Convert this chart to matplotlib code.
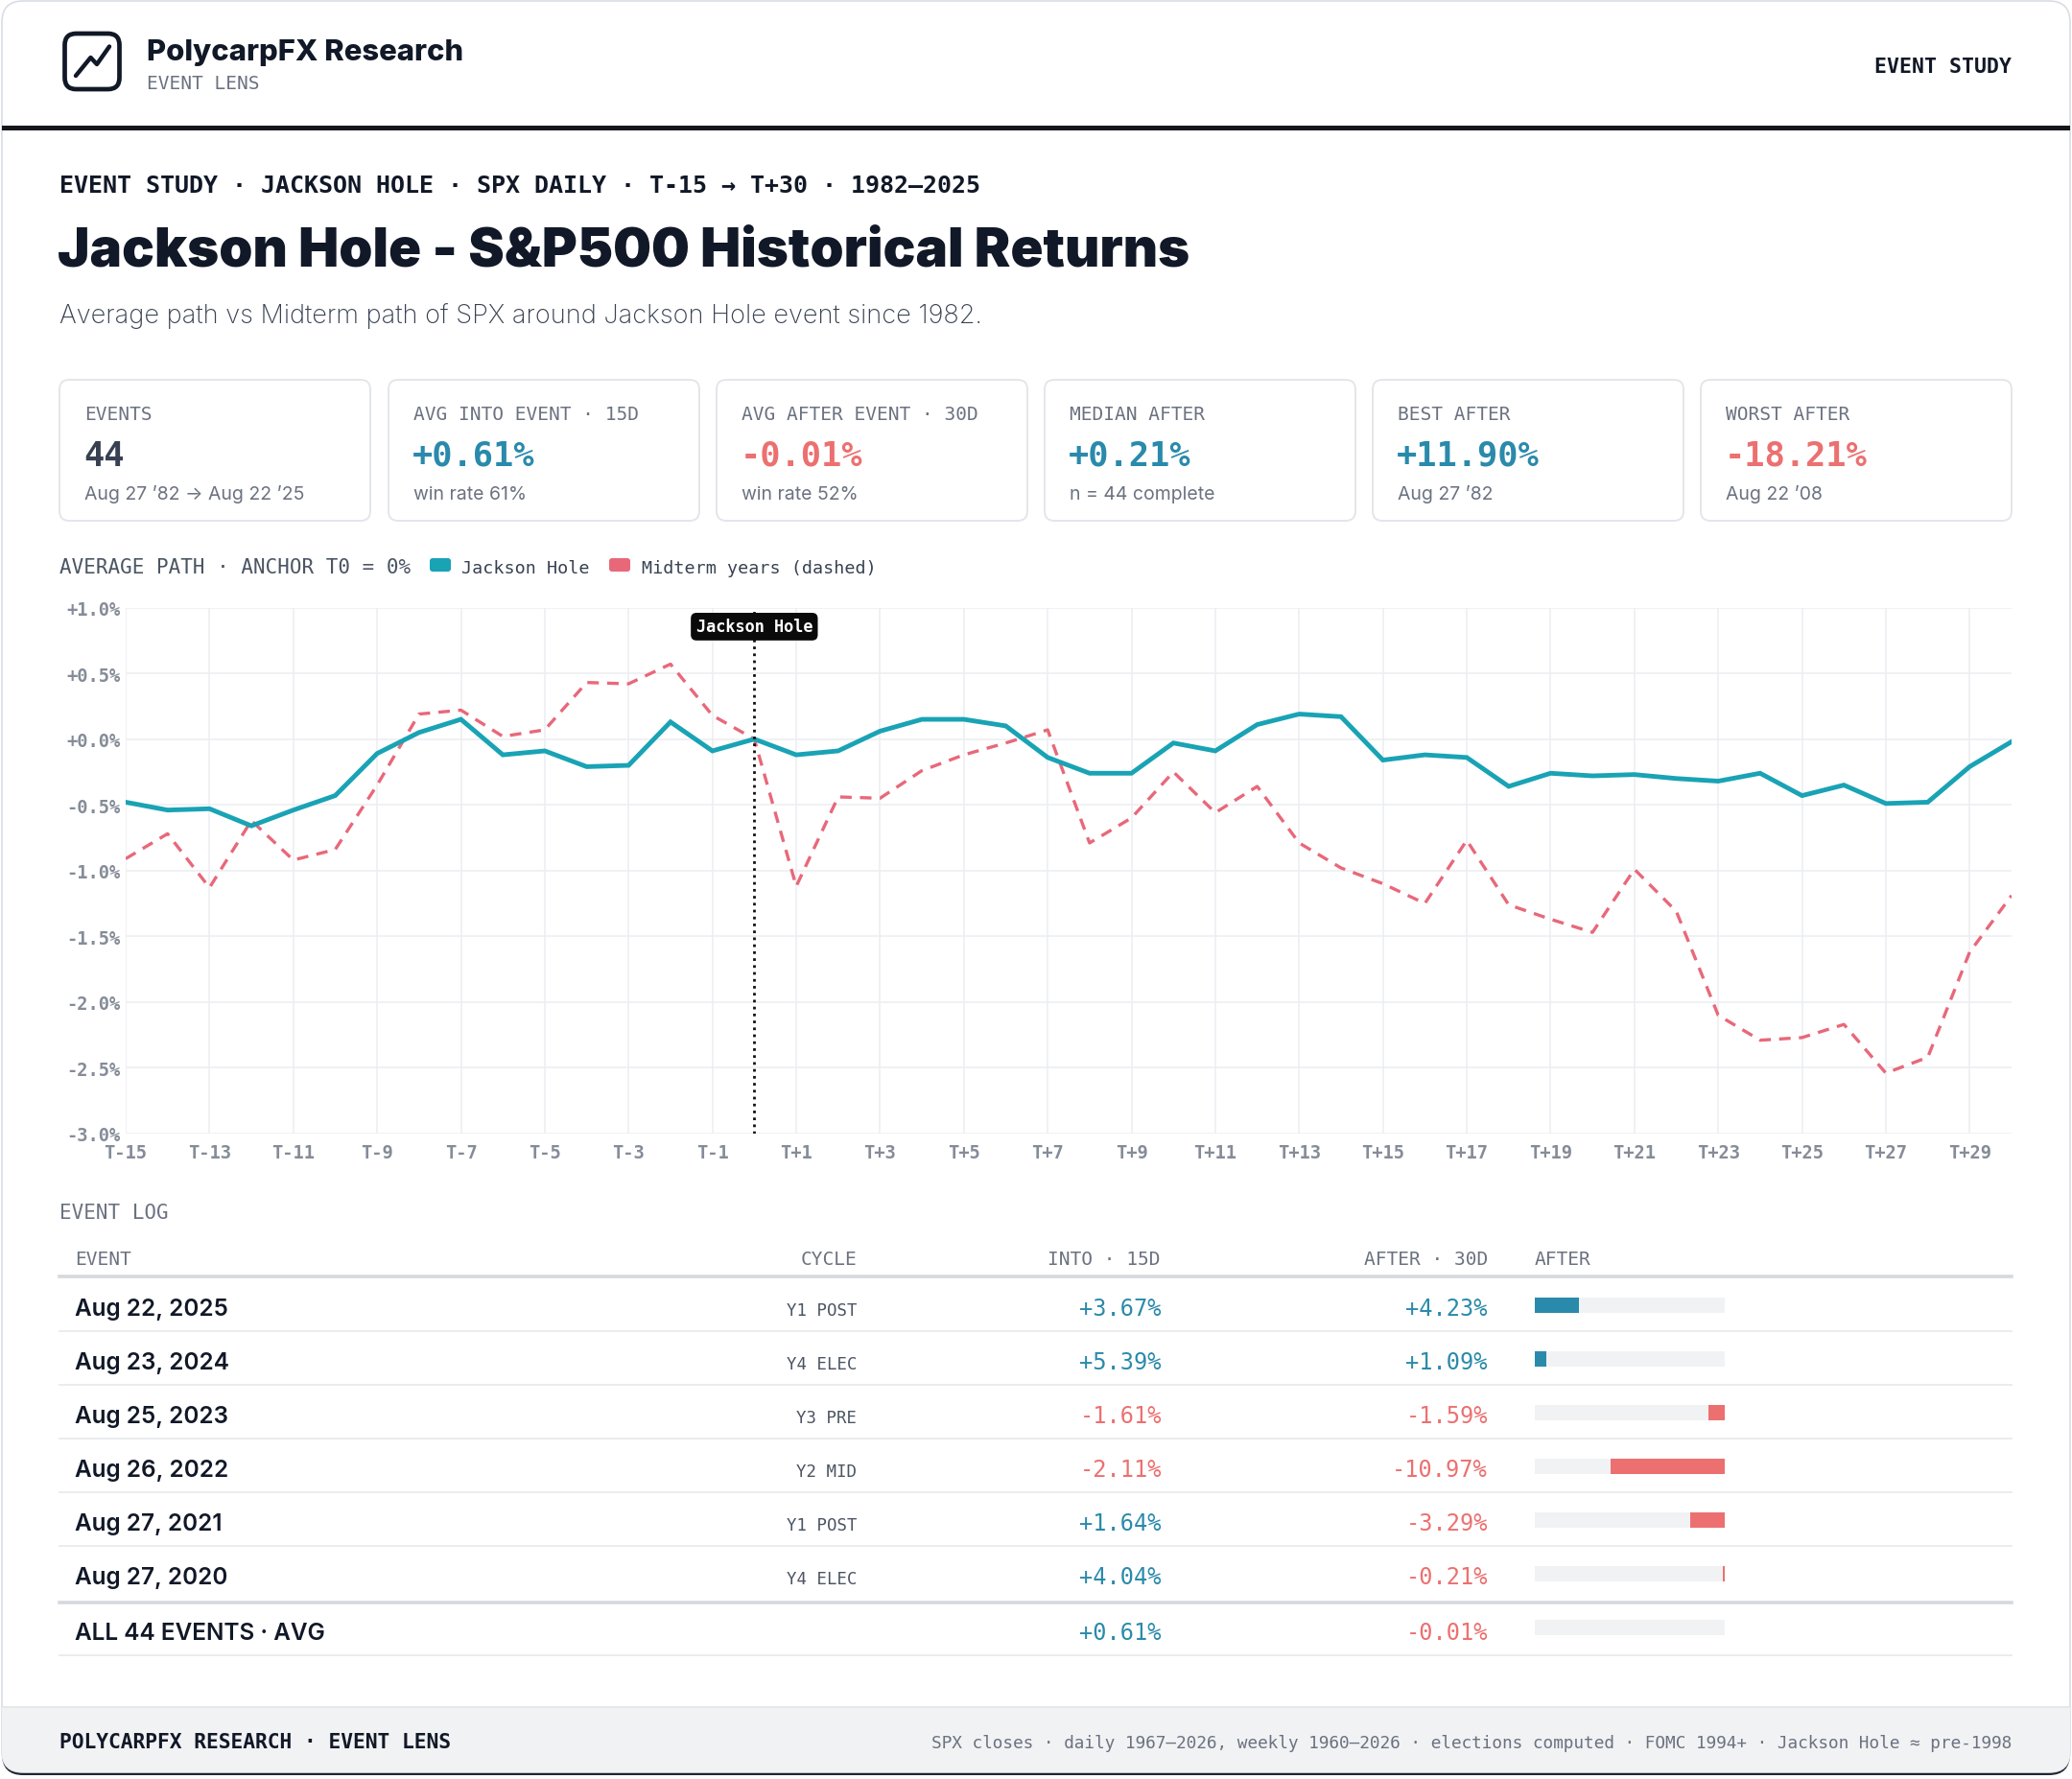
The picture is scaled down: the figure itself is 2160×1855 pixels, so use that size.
import matplotlib
matplotlib.use("Agg")
import matplotlib.pyplot as plt
from matplotlib.patches import FancyBboxPatch, Rectangle
import matplotlib.transforms as mtransforms

# ---------------- data ----------------
days = list(range(-15, 31))
jackson_hole = [-0.48, -0.54, -0.53, -0.66, -0.54, -0.43, -0.11, 0.05, 0.15, -0.12,
                -0.09, -0.21, -0.20, 0.13, -0.09, 0.00, -0.12, -0.09, 0.06, 0.15,
                0.15, 0.10, -0.14, -0.26, -0.26, -0.03, -0.09, 0.11, 0.19, 0.17,
                -0.16, -0.12, -0.14, -0.36, -0.26, -0.28, -0.27, -0.30, -0.32, -0.26,
                -0.43, -0.35, -0.49, -0.48, -0.21, -0.02]
midterm = [-0.91, -0.72, -1.13, -0.62, -0.92, -0.84, -0.35, 0.19, 0.22, 0.02,
           0.07, 0.43, 0.42, 0.57, 0.18, 0.00, -1.12, -0.44, -0.45, -0.24,
           -0.12, -0.03, 0.07, -0.79, -0.60, -0.25, -0.56, -0.36, -0.79, -0.98,
           -1.10, -1.25, -0.77, -1.26, -1.37, -1.47, -0.99, -1.31, -2.10, -2.29,
           -2.27, -2.17, -2.54, -2.42, -1.62, -1.19]
x_tick_days = list(range(-15, 30, 2))
y_ticks = [1.0, 0.5, 0.0, -0.5, -1.0, -1.5, -2.0, -2.5, -3.0]

kpi_labels = ["EVENTS", "AVG INTO EVENT · 15D", "AVG AFTER EVENT · 30D",
              "MEDIAN AFTER", "BEST AFTER", "WORST AFTER"]
kpi_values = ["44", "+0.61%", "-0.01%", "+0.21%", "+11.90%", "-18.21%"]
kpi_subs = ["Aug 27 ’82 → Aug 22 ’25", "win rate 61%", "win rate 52%",
            "n = 44 complete", "Aug 27 ’82", "Aug 22 ’08"]
kpi_tone = ["neutral", "pos", "neg", "pos", "pos", "neg"]

event_dates = ["Aug 22, 2025", "Aug 23, 2024", "Aug 25, 2023",
               "Aug 26, 2022", "Aug 27, 2021", "Aug 27, 2020"]
event_cycles = ["Y1 POST", "Y4 ELEC", "Y3 PRE", "Y2 MID", "Y1 POST", "Y4 ELEC"]
into_15d = [3.67, 5.39, -1.61, -2.11, 1.64, 4.04]
after_30d = [4.23, 1.09, -1.59, -10.97, -3.29, -0.21]
avg_into = 0.61
avg_after = -0.01
worst_after = -18.21

# ---------------- style ----------------
W, H = 2160, 1856
SANS = "Inter"
MONO = "DejaVu Sans Mono"
DARK = "#111827"
GREY = "#6b7280"
TICK = "#858c98"
POS = "#2a8aab"
NEG = "#ec7070"
TEAL = "#19a3b5"
PINK = "#e8687a"

fig = plt.figure(figsize=(W / 100, H / 100), dpi=100)
fig.patch.set_facecolor("white")
bg = fig.add_axes([0, 0, 1, 1])
bg.set_xlim(0, W)
bg.set_ylim(H, 0)
bg.axis("off")


def txt(x, y, s, size, color=DARK, family=SANS, weight="normal", ha="left", va="baseline", **kw):
    return bg.text(x, y, s, fontsize=size, color=color, family=family,
                   fontweight=weight, ha=ha, va=va, **kw)


# outer card with dark bottom shadow
shadow = FancyBboxPatch((2, 6), W - 4, H - 10, boxstyle="round,pad=0,rounding_size=22",
                        fc="#1f2430", ec="none", zorder=0)
bg.add_patch(shadow)
card = FancyBboxPatch((2, 2), W - 4, H - 9, boxstyle="round,pad=0,rounding_size=22",
                      fc="white", ec="#d9dde3", lw=1.2, zorder=1)
bg.add_patch(card)

# footer band (clipped to card)
foot = Rectangle((0, 1781), W, 80, fc="#f1f2f4", ec="none", zorder=1.5)
bg.add_patch(foot)
foot.set_clip_path(card)
bg.plot([3, W - 3], [1781, 1781], color="#e2e5e9", lw=1.2, zorder=1.6)

# header
bg.add_patch(Rectangle((2, 131.5), W - 4, 5.5, fc="#15171c", ec="none", zorder=2))
logo = FancyBboxPatch((67.5, 36), 57, 58, boxstyle="round,pad=0,rounding_size=12",
                      fc="none", ec=DARK, lw=3.4, zorder=3)
bg.add_patch(logo)
bg.plot([79, 94.5, 101, 114], [80, 61, 68, 49.5], color=DARK, lw=3.2,
        solid_capstyle="round", solid_joinstyle="round", zorder=3)
txt(153, 63, "PolycarpFX Research", 22.3, DARK, SANS, "heavy")
txt(153, 93, "EVENT LENS", 14, GREY, MONO)
txt(2097, 76.5, "EVENT STUDY", 15.5, DARK, MONO, "bold", ha="right")

# kicker, title, subtitle
txt(62, 201, "EVENT STUDY · JACKSON HOLE · SPX DAILY · T-15 → T+30 · 1982–2025", 18, DARK, MONO, "bold")
txt(60, 278, "Jackson Hole - S&P500 Historical Returns", 40.5, DARK, SANS, "black")
txt(62, 337, "Average path vs Midterm path of SPX around Jackson Hole event since 1982.", 19.5, "#374151", SANS, "light")

# KPI cards
card_x = [62, 405, 747, 1089, 1431, 1773]
card_w = 324
for i in range(6):
    x0 = card_x[i]
    bg.add_patch(FancyBboxPatch((x0, 397), card_w, 147, boxstyle="round,pad=0,rounding_size=10",
                                fc="white", ec="#e3e6ea", lw=1.4, zorder=2))
    tone = kpi_tone[i]
    vcol = POS if tone == "pos" else (NEG if tone == "neg" else "#374151")
    txt(x0 + 26, 438.5, kpi_labels[i], 14, GREY, MONO)
    txt(x0 + 25, 486, kpi_values[i], 25.5, vcol, MONO, "bold")
    txt(x0 + 26, 521, kpi_subs[i], 14, GREY, SANS, "normal")

# chart legend
txt(62, 598, "AVERAGE PATH · ANCHOR T0 = 0%", 15, "#4b5563", MONO)
bg.add_patch(FancyBboxPatch((448, 583), 22, 14, boxstyle="round,pad=0,rounding_size=3",
                            fc=TEAL, ec="none", zorder=3))
txt(481, 598, "Jackson Hole", 13.2, "#374151", MONO)
bg.add_patch(FancyBboxPatch((635, 583), 22, 14, boxstyle="round,pad=0,rounding_size=3",
                            fc=PINK, ec="none", zorder=3))
txt(669, 598, "Midterm years (dashed)", 13.2, "#374151", MONO)

# chart axes
ax_l, ax_r, ax_t, ax_b = 131, 2097, 634.5, 1183
ax = fig.add_axes([ax_l / W, 1 - ax_b / H, (ax_r - ax_l) / W, (ax_b - ax_t) / H])
ax.set_facecolor("none")
ax.set_xlim(-15, 30)
ax.set_ylim(-3, 1)
for s in ax.spines.values():
    s.set_visible(False)
ax.set_xticks(x_tick_days)
ax.set_xticklabels([f"T{d:+d}" for d in x_tick_days])
ax.set_yticks(y_ticks)
ax.set_yticklabels([f"{v:+.1f}%" for v in y_ticks])
ax.tick_params(axis="both", length=0, labelsize=13.5, labelcolor=TICK)
ax.tick_params(axis="x", pad=7)
ax.tick_params(axis="y", pad=4)
for lab in ax.get_xticklabels() + ax.get_yticklabels():
    lab.set_family(MONO)
    lab.set_fontweight("bold")
ax.grid(True, color="#eceef1", lw=1.1)
ax.set_axisbelow(True)

ax.plot(days, jackson_hole, color=TEAL, lw=3.5, zorder=4, solid_joinstyle="miter")
ax.plot(days, midterm, color=PINK, lw=2.4, dashes=(3.6, 2.6), zorder=3)
ax.axvline(0, color="#111111", lw=2.0, linestyle=(0, (1, 1.6)), zorder=5)
blend = mtransforms.blended_transform_factory(ax.transData, ax.transAxes)
ax.text(0, 0.9637, "Jackson Hole", transform=blend, ha="center", va="center",
        color="white", fontsize=12.2, family=MONO, fontweight="bold", zorder=7,
        bbox=dict(boxstyle="round,pad=0.32,rounding_size=0.35", fc="#0a0a0a", ec="none"))

# event log table
txt(62, 1271, "EVENT LOG", 15, GREY, MONO)
txt(78, 1319, "EVENT", 14, GREY, MONO)
txt(893, 1319, "CYCLE", 14, GREY, MONO, ha="right")
txt(1210, 1319, "INTO · 15D", 14, GREY, MONO, ha="right")
txt(1551, 1319, "AFTER · 30D", 14, GREY, MONO, ha="right")
txt(1600, 1319, "AFTER", 14, GREY, MONO)
bg.plot([62, 2097], [1331.5, 1331.5], color="#d5d9de", lw=2.6, zorder=2)

row_h = 56
for i in range(6):
    cy = 1361 + row_h * i
    txt(78, cy + 11, event_dates[i], 17.5, DARK, SANS, "semibold")
    txt(893, cy + 11, event_cycles[i], 12.5, "#4b5563", MONO, ha="right")
    v1, v2 = into_15d[i], after_30d[i]
    txt(1211, cy + 11, f"{v1:+.2f}%", 17, POS if v1 >= 0 else NEG, MONO, ha="right")
    txt(1551, cy + 11, f"{v2:+.2f}%", 17, POS if v2 >= 0 else NEG, MONO, ha="right")
    if i < 5:
        bg.plot([62, 2097], [cy + 28, cy + 28], color="#e8eaed", lw=1.3, zorder=2)
bg.plot([62, 2097], [1672, 1672], color="#d5d9de", lw=2.6, zorder=2)
cy = 1699.5
txt(78, cy + 11, "ALL 44 EVENTS · AVG", 17.5, DARK, SANS, "semibold")
txt(1211, cy + 11, f"{avg_into:+.2f}%", 17, POS if avg_into >= 0 else NEG, MONO, ha="right")
txt(1551, cy + 11, f"{avg_after:+.2f}%", 17, POS if avg_after >= 0 else NEG, MONO, ha="right")
bg.plot([62, 2097], [1727, 1727], color="#e8eaed", lw=1.3, zorder=2)

# bar column
scale_max = abs(worst_after)
all_after = after_30d + [avg_after]
rows = list(range(len(all_after)))
bax = fig.add_axes([1600 / W, 1 - 1726 / H, 198 / W, 392 / H])
bax.set_xlim(0, scale_max)
bax.set_ylim(6.5, -0.5)
bax.axis("off")
bax.barh(rows, [scale_max] * len(rows), left=0, height=0.27, color="#f1f2f4")
for r, v in zip(rows, all_after):
    if v >= 0:
        bax.barh(r, v, left=0, height=0.27, color=POS)
    else:
        bax.barh(r, -v, left=scale_max + v, height=0.27, color=NEG)

# footer
txt(62, 1823, "POLYCARPFX RESEARCH · EVENT LENS", 15.3, DARK, MONO, "bold", zorder=3)
txt(2097, 1823, "SPX closes · daily 1967–2026, weekly 1960–2026 · elections computed · FOMC 1994+ · Jackson Hole ≈ pre-1998",
    12.8, GREY, MONO, ha="right", zorder=3)

fig.savefig("out.png", dpi=100, facecolor="white")
